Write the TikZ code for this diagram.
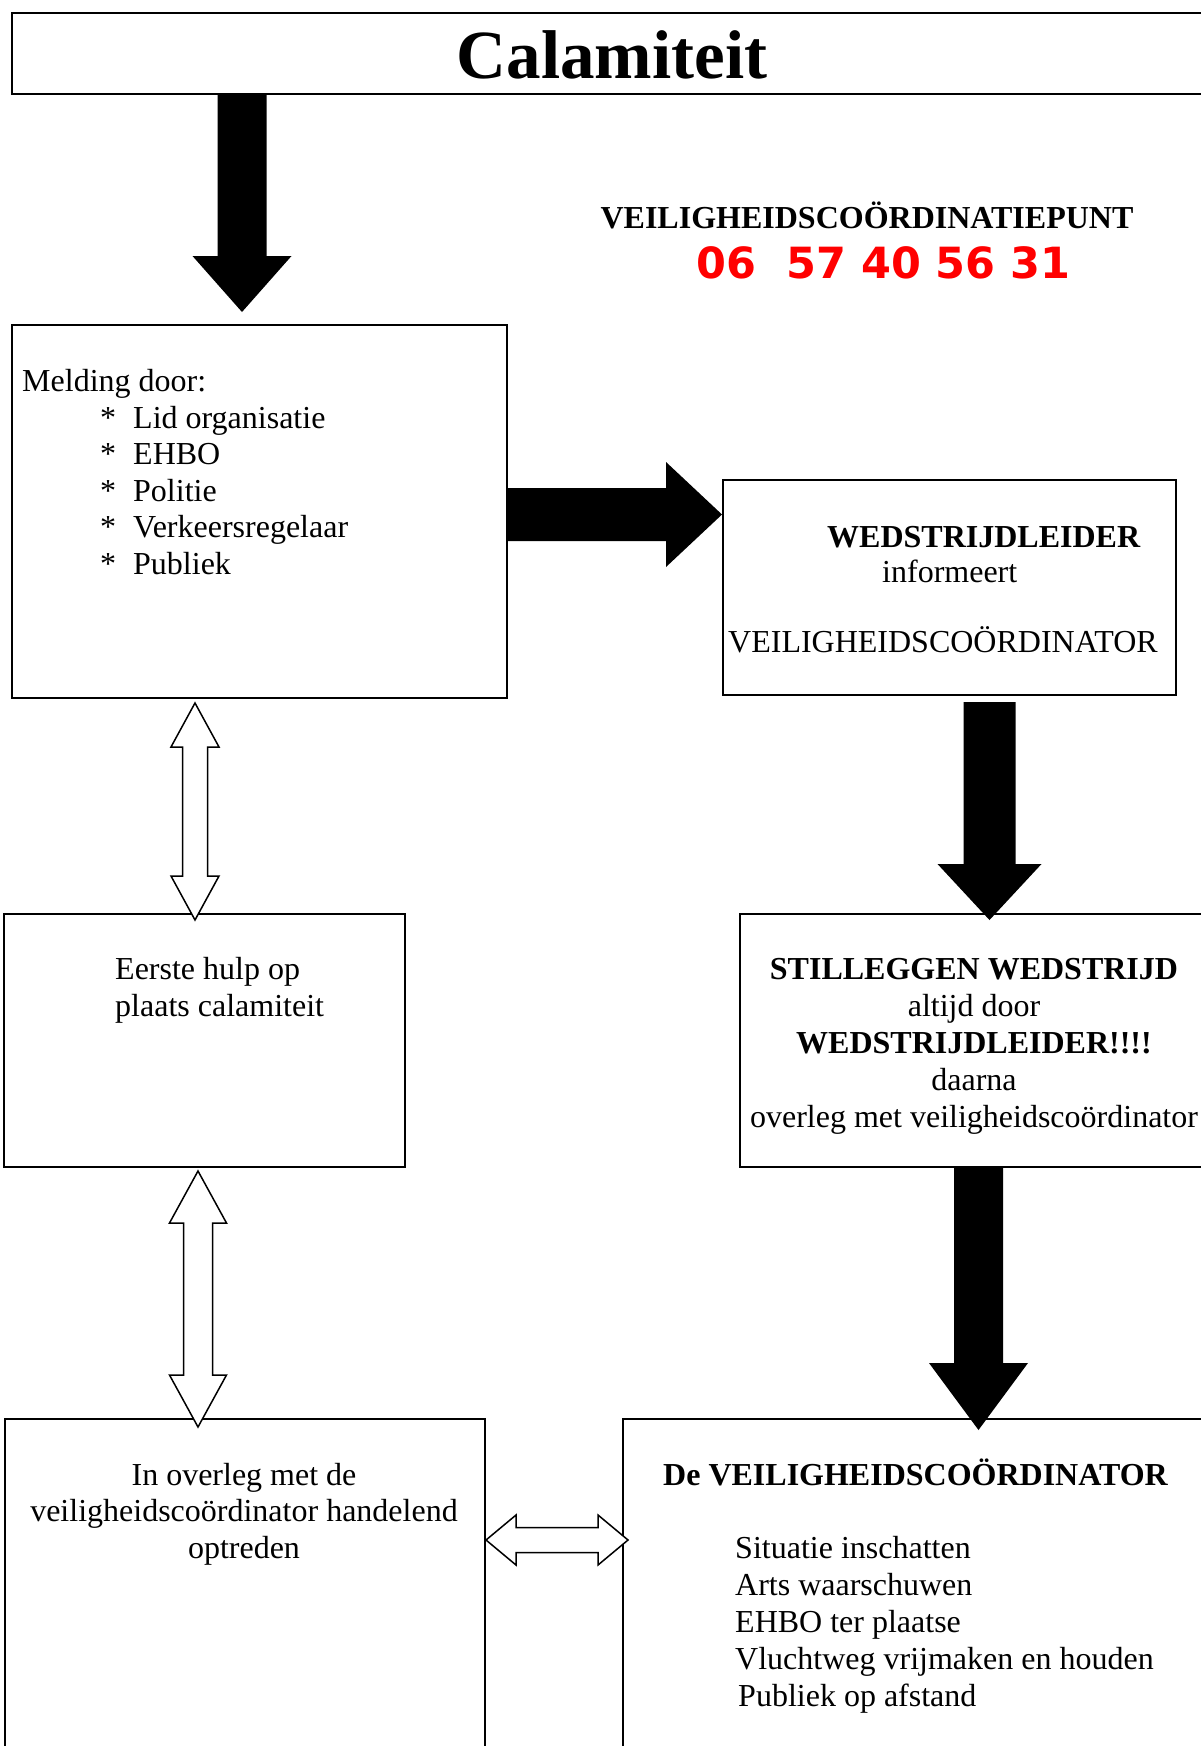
\documentclass[tikz,border=0pt]{standalone}
\usepackage{fontspec}
\setmainfont{Liberation Serif}
\newfontfamily\phonefont{DejaVu Sans}
\usetikzlibrary{calc}

\tikzset{
  box/.style = {draw, line width = 2pt, anchor = north west, inner sep = 0pt},
  txt/.style = {inner sep = 0pt, font = \fontsize{32pt}{37pt}\selectfont},
  fatarrow/.style n args = {3}{fill = black, to path = {
    ($(\tikztotarget)!#3!(\tikztostart)$) coordinate (fa-h)
    ($(\tikztostart)!#1!90:(\tikztotarget)$)
    -- ($(fa-h)!#1!90:(\tikztotarget)$) -- ($(fa-h)!#2!90:(\tikztotarget)$)
    -- (\tikztotarget)
    -- ($(fa-h)!#2!-90:(\tikztotarget)$) -- ($(fa-h)!#1!-90:(\tikztotarget)$)
    -- ($(\tikztostart)!#1!-90:(\tikztotarget)$) -- cycle}},
  twoway/.style n args = {3}{draw, fill = white, line width = 1.5pt, to path = {
    ($(\tikztostart)!#3!(\tikztotarget)$) coordinate (tw-a)
    ($(\tikztotarget)!#3!(\tikztostart)$) coordinate (tw-b)
    (\tikztostart)
    -- ($(tw-a)!#2!90:(\tikztotarget)$) -- ($(tw-a)!#1!90:(\tikztotarget)$)
    -- ($(tw-b)!#1!90:(\tikztotarget)$) -- ($(tw-b)!#2!90:(\tikztotarget)$)
    -- (\tikztotarget)
    -- ($(tw-b)!#2!-90:(\tikztotarget)$) -- ($(tw-b)!#1!-90:(\tikztotarget)$)
    -- ($(tw-a)!#1!-90:(\tikztotarget)$) -- ($(tw-a)!#2!-90:(\tikztotarget)$) -- cycle}}
}

\begin{document}
\begin{tikzpicture}[x = 1pt, y = -1pt]
\useasboundingbox (0,0) rectangle (1201,1746);
\clip (0,0) rectangle (1201,1746);

\node[box, minimum width = 1202pt, minimum height = 81pt] (title) at (11,12) {};
\node[box, minimum width = 495pt, minimum height = 373pt] (melding) at (11,324) {};
\node[box, minimum width = 453pt, minimum height = 215pt] (wedstr) at (722,479) {};
\node[box, minimum width = 401pt, minimum height = 253pt] (eerste) at (3,913) {};
\node[box, minimum width = 471pt, minimum height = 253pt] (stil) at (739,913) {};
\node[box, minimum width = 480pt, minimum height = 360pt] (overleg) at (4,1418) {};
\node[box, minimum width = 589pt, minimum height = 360pt] (coord) at (622,1418) {};

\coordinate (a1) at (242,312);
\coordinate (a2) at (722,514.5);
\coordinate (a3s) at (989.5,702);
\coordinate (a3) at (989.5,920);
\coordinate (a4) at (978.5,1430);
\coordinate (a5s) at (195,703);
\coordinate (a5) at (195,920);
\coordinate (a6s) at (198,1171);
\coordinate (a6) at (198,1427);
\coordinate (a7) at (628,1540);

\fill[fatarrow = {24.5pt}{49.5pt}{56pt}] (title.south -| a1) to (a1);
\fill[fatarrow = {26.5pt}{52.5pt}{56pt}] (melding.east |- a2) to (a2);
\fill[fatarrow = {26pt}{52pt}{56pt}] (a3s) to (a3);
\fill[fatarrow = {24.5pt}{49.5pt}{67pt}] (stil.south -| a4) to (a4);
\draw[twoway = {12.5pt}{24pt}{44pt}] (a5s) to (a5);
\draw[twoway = {14.5pt}{28.5pt}{52pt}] (a6s) to (a6);
\draw[twoway = {12.5pt}{25pt}{30pt}] (overleg.east |- a7) to (a7);

\node[txt, anchor = base, font = \fontsize{69pt}{72pt}\selectfont\bfseries] (calamiteit) at (612,78) {Calamiteit};
\node[txt, anchor = base, font = \fontsize{32pt}{37pt}\selectfont\bfseries] (punt) at (867,228) {VEILIGHEIDSCOÖRDINATIEPUNT};
\node[anchor = base, inner sep = 0pt, text = red, font = \phonefont\bfseries\fontsize{43pt}{45pt}\selectfont] (phone) at (883.5,278) {06\ \ 57 40 56 31};

\node[txt, anchor = base west] (meldkop) at (22,391.5) {Melding door:};
\foreach \wie [count = \i] in {Lid organisatie, EHBO, Politie, Verkeersregelaar, Publiek} {
  \node[txt, anchor = base west] (ster\i) at (100, 391.5 + 36.5*\i) {*};
  \node[txt, anchor = base west] (melder\i) at (133, 391.5 + 36.5*\i) {\wie};
}

\node[txt, anchor = base west] (leider) at (827,547) {\textbf{WEDSTRIJDLEIDER}};
\node[txt, anchor = base west] (informeert) at (882,582) {informeert};
\node[txt, anchor = base west] (coordinator) at (728,652) {VEILIGHEIDSCOÖRDINATOR};

\node[txt, anchor = base west] (hulp1) at (115,979) {Eerste hulp op};
\node[txt, anchor = base west] (hulp2) at (115,1016) {plaats calamiteit};

\foreach \regel [count = \i from 0] in {\textbf{STILLEGGEN WEDSTRIJD}, altijd door, \textbf{WEDSTRIJDLEIDER!!!!}, daarna, overleg met veiligheidscoördinator}
  \node[txt, anchor = base] (stil\i) at (974, 979 + 37*\i) {\regel};

\foreach \regel [count = \i from 0] in {In overleg met de, veiligheidscoördinator handelend, optreden}
  \node[txt, anchor = base] (overleg\i) at (244, 1485 + 36.8*\i) {\regel};

\node[txt, anchor = base west] (coordkop) at (663,1485) {\textbf{De VEILIGHEIDSCOÖRDINATOR}};
\foreach \taak/\inspring [count = \i from 0] in {Situatie inschatten/0, Arts waarschuwen/0, EHBO ter plaatse/0, Vluchtweg vrijmaken en houden/0, Publiek op afstand/3}
  \node[txt, anchor = base west] (taak\i) at (735 + \inspring, 1558 + 37*\i) {\taak};
\end{tikzpicture}
\end{document}
